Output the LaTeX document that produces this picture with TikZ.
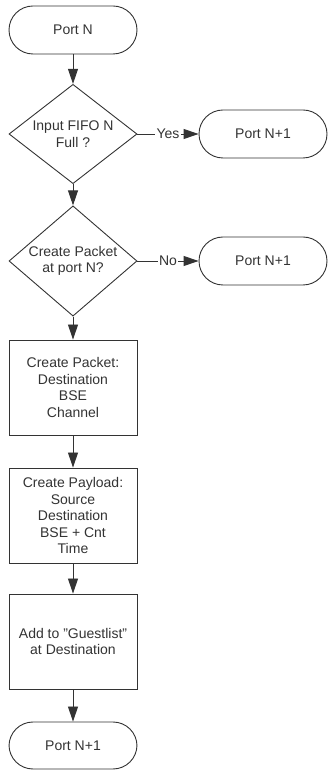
\documentclass[tikz,border=0pt]{standalone}
\usepackage{fontspec}
\setmainfont{Liberation Sans}
\usetikzlibrary{shapes.geometric,arrows.meta}
\begin{document}
\begin{tikzpicture}[x=1pt,y=1pt,
    every node/.style={font=\fontsize{14}{16.5}\selectfont, text=black!80, align=center},
    terminal/.style={draw=black!80, line width=0.9pt, rectangle, rounded corners=24pt, minimum width=128pt, minimum height=48pt},
    decision/.style={draw=black!80, line width=0.9pt, diamond, inner sep=-2pt, minimum width=128pt, minimum height=96pt},
    process/.style={draw=black!80, line width=0.9pt, rectangle, minimum width=128pt, minimum height=95pt},
    flow/.style={draw=black!80, line width=0.9pt, -{Triangle[length=15pt,width=10pt]}},
    tag/.style={fill=white, inner sep=1.5pt}]
    \useasboundingbox (0,0) rectangle (328,772);
    % Left column
    \node[terminal] (portn) at (73,742) {Port N}; % Start
    \node[decision] (fifofull) at (73,638) {Input FIFO N\\Full ?};
    \node[decision] (create) at (73,511) {Create Packet\\at port N?};
    \node[process] (packet) at (73,384.5) {Create Packet:\\Destination\\BSE\\Channel};
    \node[process] (payload) at (73,256.5) {Create Payload:\\Source\\Destination\\BSE + Cnt\\Time};
    \node[process] (guest) at (73,130.5) {Add to "Guestlist"\\at Destination};
    \node[terminal, minimum height=47pt] (nextport) at (73,26.5) {Port N+1}; % End
    % Right column
    \node[terminal] (skipfull) at (263,638) {Port N+1};
    \node[terminal] (skipnone) at (263,511) {Port N+1};
    % Connectors
    \draw[flow] (portn) -- (fifofull);
    \draw[flow] (fifofull) -- (create);
    \draw[flow] (create) -- (packet);
    \draw[flow] (packet) -- (payload);
    \draw[flow] (payload) -- (guest);
    \draw[flow] (guest) -- (nextport);
    \draw[flow] (fifofull) -- node[tag] (yes) {Yes} (skipfull);
    \draw[flow] (create) -- node[tag] (no) {No} (skipnone);
\end{tikzpicture}
\end{document}
